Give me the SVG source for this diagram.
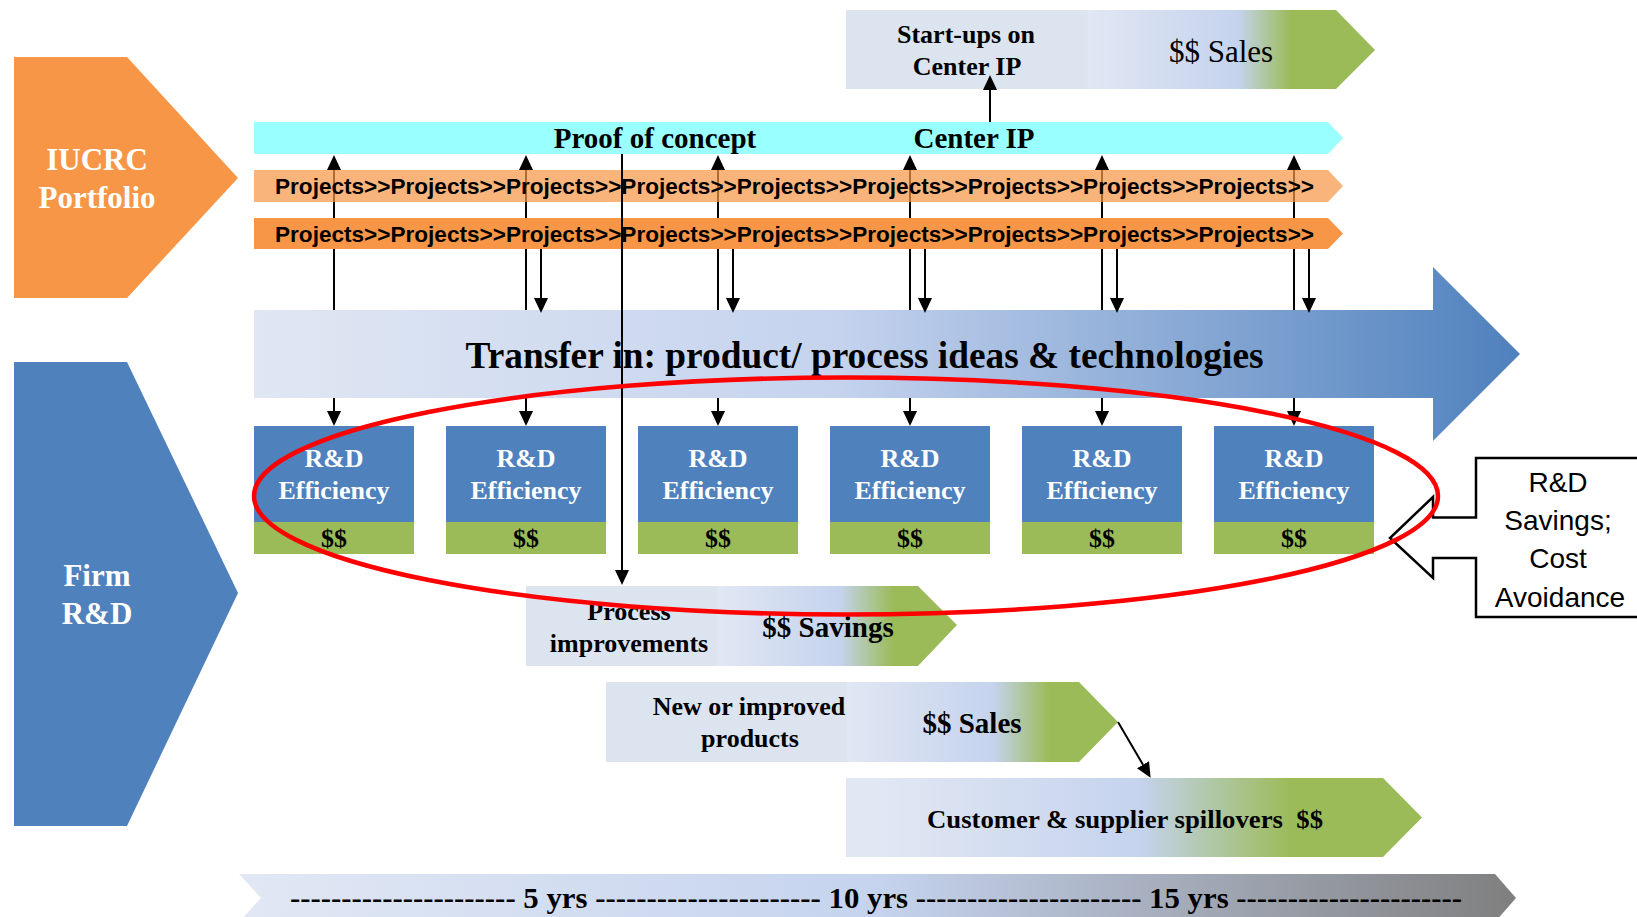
<svg xmlns="http://www.w3.org/2000/svg" width="1637" height="917" viewBox="0 0 1637 917">
  <defs>
    <!-- outcome chevrons: pale label area, then blue fading to green -->
    <linearGradient id="gStartups" gradientUnits="userSpaceOnUse" x1="846" y1="0" x2="1375" y2="0">
      <stop offset="0" stop-color="#DCE4F0"/>
      <stop offset="0.4556" stop-color="#DCE4F0"/>
      <stop offset="0.4575" stop-color="#E1E7F3"/>
      <stop offset="0.741" stop-color="#C5D3EE"/>
      <stop offset="0.841" stop-color="#9BBB59"/>
      <stop offset="1" stop-color="#9BBB59"/>
    </linearGradient>
    <linearGradient id="gProcess" gradientUnits="userSpaceOnUse" x1="526" y1="0" x2="957" y2="0">
      <stop offset="0" stop-color="#DCE4F0"/>
      <stop offset="0.443" stop-color="#DCE4F0"/>
      <stop offset="0.445" stop-color="#E1E7F3"/>
      <stop offset="0.7285" stop-color="#C5D3EE"/>
      <stop offset="0.8515" stop-color="#9BBB59"/>
      <stop offset="1" stop-color="#9BBB59"/>
    </linearGradient>
    <linearGradient id="gProducts" gradientUnits="userSpaceOnUse" x1="606" y1="0" x2="1118" y2="0">
      <stop offset="0" stop-color="#DCE4F0"/>
      <stop offset="0.469" stop-color="#DCE4F0"/>
      <stop offset="0.471" stop-color="#E1E7F3"/>
      <stop offset="0.756" stop-color="#C5D3EE"/>
      <stop offset="0.867" stop-color="#9BBB59"/>
      <stop offset="1" stop-color="#9BBB59"/>
    </linearGradient>
    <linearGradient id="gSpill" gradientUnits="userSpaceOnUse" x1="846" y1="0" x2="1422" y2="0">
      <stop offset="0" stop-color="#E1E7F3"/>
      <stop offset="0.06" stop-color="#E1E7F3"/>
      <stop offset="0.509" stop-color="#C5D3EE"/>
      <stop offset="0.773" stop-color="#9BBB59"/>
      <stop offset="1" stop-color="#9BBB59"/>
    </linearGradient>
    <linearGradient id="gTransfer" gradientUnits="userSpaceOnUse" x1="254" y1="0" x2="1520" y2="0">
      <stop offset="0" stop-color="#E0E7F3"/>
      <stop offset="0.459" stop-color="#C5D3EE"/>
      <stop offset="1" stop-color="#4F81BD"/>
    </linearGradient>
    <linearGradient id="gTime" gradientUnits="userSpaceOnUse" x1="239" y1="0" x2="1516" y2="0">
      <stop offset="0" stop-color="#E1E8F4"/>
      <stop offset="0.502" stop-color="#C5D3EE"/>
      <stop offset="1" stop-color="#7F7F7F"/>
    </linearGradient>
    <marker id="ah" markerUnits="userSpaceOnUse" markerWidth="15" markerHeight="14" viewBox="0 0 15 14" refX="0" refY="7" orient="auto">
      <path d="M0,0 L15,7 L0,14 z" fill="#000"/>
    </marker>
  </defs>
  <style>
    .serif { font-family: "Liberation Serif", "Times New Roman", serif; }
    .sans { font-family: "Liberation Sans", Arial, sans-serif; }
    .b { font-weight: bold; }
    .mid { text-anchor: middle; }
    .white { fill: #FFFFFF; }
    .ink { fill: #000000; }
    .link { stroke: #000; stroke-width: 2; fill: none; marker-end: url(#ah); }
    .plain { stroke: #000; stroke-width: 2; fill: none; }
    .rd { fill: #4F81BD; }
    .money { fill: #9BBB59; }
    .proj { font-family: "Liberation Sans", Arial, sans-serif; font-weight: bold; font-size: 21.5px; fill: #000; }
  </style>

  <!-- side labels -->
  <g id="iucrc-portfolio">
    <polygon points="14,57 127,57 238,178 127,298 14,298" fill="#F79646"/>
    <text class="serif b mid white" x="97" y="170" font-size="31">IUCRC</text>
    <text class="serif b mid white" x="97" y="208" font-size="31">Portfolio</text>
  </g>
  <g id="firm-rd">
    <polygon points="14,362 127,362 238,593 127,826 14,826" fill="#4F81BD"/>
    <text class="serif b mid white" x="97" y="586" font-size="31">Firm</text>
    <text class="serif b mid white" x="97" y="624" font-size="31">R&amp;D</text>
  </g>

  <!-- center output band -->
  <g id="proof-center-ip">
    <polygon points="254,122 1328,122 1343,138 1328,154 254,154" fill="#99FFFF"/>
    <text class="serif b mid ink" x="655" y="148" font-size="29">Proof of concept</text>
    <text class="serif b mid ink" x="974" y="148" font-size="29">Center IP</text>
  </g>

  <!-- feed arrows from the firm side up to the center band (pass under the project bands) -->
  <g id="connectors-behind">
    <line class="link" x1="334" y1="310" x2="334" y2="170"/>
    <line class="link" x1="526" y1="310" x2="526" y2="170"/>
    <line class="link" x1="718" y1="310" x2="718" y2="170"/>
    <line class="link" x1="910" y1="310" x2="910" y2="170"/>
    <line class="link" x1="1102" y1="310" x2="1102" y2="170"/>
    <line class="link" x1="1294" y1="310" x2="1294" y2="170"/>
  </g>

  <!-- project streams -->
  <g id="projects-1">
    <polygon points="254,170 1328,170 1343,186 1328,202 254,202" fill="#F79646" fill-opacity="0.71"/>
    <text class="proj" x="275" y="194" textLength="1039" lengthAdjust="spacingAndGlyphs">Projects&gt;&gt;Projects&gt;&gt;Projects&gt;&gt;Projects&gt;&gt;Projects&gt;&gt;Projects&gt;&gt;Projects&gt;&gt;Projects&gt;&gt;Projects&gt;&gt;</text>
  </g>
  <g id="projects-2">
    <polygon points="254,218 1328,218 1343,233.5 1328,249 254,249" fill="#F79646"/>
    <text class="proj" x="275" y="242" textLength="1039" lengthAdjust="spacingAndGlyphs">Projects&gt;&gt;Projects&gt;&gt;Projects&gt;&gt;Projects&gt;&gt;Projects&gt;&gt;Projects&gt;&gt;Projects&gt;&gt;Projects&gt;&gt;Projects&gt;&gt;</text>
  </g>

  <!-- transfer arrow -->
  <g id="transfer-in">
    <polygon points="254,310 1433,310 1433,267 1520,354 1433,441 1433,398 254,398" fill="url(#gTransfer)"/>
    <text class="serif b mid ink" x="864.5" y="368" font-size="37" textLength="798" lengthAdjust="spacingAndGlyphs">Transfer in: product/ process ideas &amp; technologies</text>
  </g>

  <!-- R&D efficiency boxes -->
  <g id="rd-1">
    <rect class="rd" x="254" y="426" width="160" height="96"/>
    <rect class="money" x="254" y="522" width="160" height="32"/>
    <text class="serif b mid white" x="334" y="467" font-size="26">R&amp;D</text>
    <text class="serif b mid white" x="334" y="499" font-size="26">Efficiency</text>
    <text class="serif b mid ink" x="334" y="547" font-size="26">$$</text>
  </g>
  <g id="rd-2">
    <rect class="rd" x="446" y="426" width="160" height="96"/>
    <rect class="money" x="446" y="522" width="160" height="32"/>
    <text class="serif b mid white" x="526" y="467" font-size="26">R&amp;D</text>
    <text class="serif b mid white" x="526" y="499" font-size="26">Efficiency</text>
    <text class="serif b mid ink" x="526" y="547" font-size="26">$$</text>
  </g>
  <g id="rd-3">
    <rect class="rd" x="638" y="426" width="160" height="96"/>
    <rect class="money" x="638" y="522" width="160" height="32"/>
    <text class="serif b mid white" x="718" y="467" font-size="26">R&amp;D</text>
    <text class="serif b mid white" x="718" y="499" font-size="26">Efficiency</text>
    <text class="serif b mid ink" x="718" y="547" font-size="26">$$</text>
  </g>
  <g id="rd-4">
    <rect class="rd" x="830" y="426" width="160" height="96"/>
    <rect class="money" x="830" y="522" width="160" height="32"/>
    <text class="serif b mid white" x="910" y="467" font-size="26">R&amp;D</text>
    <text class="serif b mid white" x="910" y="499" font-size="26">Efficiency</text>
    <text class="serif b mid ink" x="910" y="547" font-size="26">$$</text>
  </g>
  <g id="rd-5">
    <rect class="rd" x="1022" y="426" width="160" height="96"/>
    <rect class="money" x="1022" y="522" width="160" height="32"/>
    <text class="serif b mid white" x="1102" y="467" font-size="26">R&amp;D</text>
    <text class="serif b mid white" x="1102" y="499" font-size="26">Efficiency</text>
    <text class="serif b mid ink" x="1102" y="547" font-size="26">$$</text>
  </g>
  <g id="rd-6">
    <rect class="rd" x="1214" y="426" width="160" height="96"/>
    <rect class="money" x="1214" y="522" width="160" height="32"/>
    <text class="serif b mid white" x="1294" y="467" font-size="26">R&amp;D</text>
    <text class="serif b mid white" x="1294" y="499" font-size="26">Efficiency</text>
    <text class="serif b mid ink" x="1294" y="547" font-size="26">$$</text>
  </g>

  <!-- outcome chevrons -->
  <g id="startups">
    <polygon points="846,10 1336,10 1375,50 1336,89 846,89" fill="url(#gStartups)"/>
    <text class="serif b mid ink" x="966" y="43" font-size="26">Start-ups on</text>
    <text class="serif b mid ink" x="967" y="75" font-size="26">Center IP</text>
    <text class="serif mid ink" x="1221" y="62" font-size="31">$$ Sales</text>
  </g>
  <g id="process-improvements">
    <polygon points="526,586 918,586 957,625 918,666 526,666" fill="url(#gProcess)"/>
    <text class="serif b mid ink" x="629" y="620" font-size="26">Process</text>
    <text class="serif b mid ink" x="629" y="652" font-size="26">improvements</text>
    <text class="serif b mid ink" x="828" y="637" font-size="29">$$ Savings</text>
  </g>
  <g id="new-products">
    <polygon points="606,682 1079,682 1118,722 1079,762 606,762" fill="url(#gProducts)"/>
    <text class="serif b mid ink" x="749" y="715" font-size="26">New or improved</text>
    <text class="serif b mid ink" x="750" y="747" font-size="26">products</text>
    <text class="serif b mid ink" x="972" y="733" font-size="29">$$ Sales</text>
  </g>
  <g id="spillovers">
    <polygon points="846,778 1383,778 1422,817.5 1383,857 846,857" fill="url(#gSpill)"/>
    <text class="serif b mid ink" x="1125" y="828" font-size="26" xml:space="preserve" textLength="396" lengthAdjust="spacingAndGlyphs">Customer &amp; supplier spillovers  $$</text>
  </g>

  <!-- time scale -->
  <g id="timeline">
    <polygon points="239,874 1495,874 1516,898 1495,922 239,922 261,898" fill="url(#gTime)"/>
    <text class="serif b ink" x="290" y="908" font-size="30" textLength="1172" lengthAdjust="spacingAndGlyphs">---------------------- 5 yrs ---------------------- 10 yrs ---------------------- 15 yrs ----------------------</text>
  </g>

  <!-- arrows between stages -->
  <g id="connectors">
    <!-- project results fed back down into the transfer band -->
    <line class="link" x1="541" y1="249" x2="541" y2="298"/>
    <line class="link" x1="733" y1="249" x2="733" y2="298"/>
    <line class="link" x1="925" y1="249" x2="925" y2="298"/>
    <line class="link" x1="1117" y1="249" x2="1117" y2="298"/>
    <line class="link" x1="1309" y1="249" x2="1309" y2="298"/>
    <!-- transfer band into each R&D box -->
    <line class="link" x1="334" y1="398" x2="334" y2="411"/>
    <line class="link" x1="526" y1="398" x2="526" y2="411"/>
    <line class="link" x1="718" y1="398" x2="718" y2="411"/>
    <line class="link" x1="910" y1="398" x2="910" y2="411"/>
    <line class="link" x1="1102" y1="398" x2="1102" y2="411"/>
    <line class="link" x1="1294" y1="398" x2="1294" y2="411"/>
    <!-- proof of concept straight to process improvements -->
    <line class="link" x1="622" y1="154" x2="622" y2="570"/>
    <!-- center IP to start-ups -->
    <line class="link" x1="990" y1="122" x2="990" y2="90"/>
    <!-- product sales to spillovers -->
    <line class="link" x1="1118" y1="722" x2="1143" y2="764.7"/>
  </g>

  <!-- callout -->
  <g id="rd-savings-callout">
    <path d="M1645,458 L1476,458 L1476,517.5 L1433,517.5 L1433,497 L1390,538 L1433,578 L1433,558 L1476,558 L1476,617 L1645,617" fill="#FFFFFF" stroke="#000" stroke-width="2.5"/>
    <text class="sans mid ink" x="1558" y="492" font-size="28">R&amp;D</text>
    <text class="sans mid ink" x="1558" y="530" font-size="28">Savings;</text>
    <text class="sans mid ink" x="1558" y="568" font-size="28">Cost</text>
    <text class="sans mid ink" x="1560" y="606.5" font-size="28">Avoidance</text>
  </g>

  <!-- highlight ring round the R&D efficiency row -->
  <g id="efficiency-highlight">
    <ellipse cx="846" cy="496" rx="592" ry="118.5" fill="none" stroke="#FF0000" stroke-width="4.5"/>
  </g>
</svg>
